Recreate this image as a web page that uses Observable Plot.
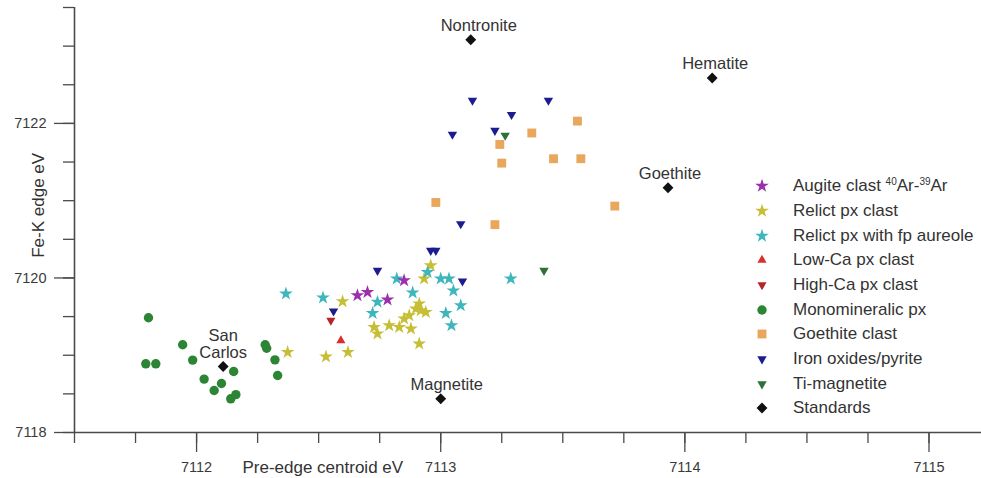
<!DOCTYPE html>
<html>
<head>
<meta charset="utf-8">
<script src="https://cdn.jsdelivr.net/npm/d3@7"></script>
<script src="https://cdn.jsdelivr.net/npm/@observablehq/plot@0.6"></script>
<style>
  body { margin: 0; background: #fff; font-family: "Liberation Sans", Arial, sans-serif; }
  #wrap { position: relative; width: 981px; height: 478px; }
  #legend { position: absolute; left: 750px; top: 174px; color: #333; font-size: 17px; }
  .row { height: 24.67px; display: flex; align-items: center; white-space: nowrap; }
  .row svg { width: 24px; height: 24px; margin-right: 19px; flex: none; }
  sup { font-size: 10px; vertical-align: 6px; line-height: 0; }
</style>
</head>
<body>
<div id="wrap"></div>
<script>
// ---------------- data (pre-edge centroid eV, Fe-K edge eV) ----------------
const augite = [[7112.659,7119.773],[7112.700,7119.816],[7112.782,7119.718],[7112.850,7119.968]];
const relictPx = [[7112.373,7119.040],[7112.530,7118.980],[7112.620,7119.040],[7112.598,7119.696],
  [7112.727,7119.363],[7112.741,7119.278],[7112.789,7119.385],[7112.830,7119.363],[7112.850,7119.472],
  [7112.871,7119.515],[7112.878,7119.342],[7112.898,7119.601],[7112.918,7119.579],[7112.939,7119.557],
  [7112.912,7119.666],[7112.932,7119.990],[7112.912,7119.148],[7112.959,7120.160]];
const relictFp = [[7112.366,7119.795],[7112.518,7119.744],[7112.820,7119.990],[7112.885,7119.810],
  [7112.741,7119.690],[7112.721,7119.544],[7112.946,7120.075],[7113.000,7119.990],[7113.034,7119.990],
  [7113.052,7119.835],[7113.082,7119.644],[7113.021,7119.544],[7113.044,7119.385],[7113.287,7119.990]];
const lowCa = [[7112.591,7119.190]];
const highCa = [[7112.550,7119.450]];
const monomineralic = [[7111.803,7119.485],[7111.792,7118.889],[7111.833,7118.889],[7111.943,7119.135],
  [7111.984,7118.937],[7112.031,7118.691],[7112.102,7118.634],[7112.072,7118.544],[7112.152,7118.790],
  [7112.140,7118.436],[7112.161,7118.490],[7112.281,7119.135],[7112.287,7119.090],[7112.321,7118.940],
  [7112.332,7118.738]];
const goethiteClast = [[7113.560,7122.030],[7113.373,7121.876],[7113.242,7121.728],[7113.250,7121.486],
  [7113.462,7121.543],[7113.574,7121.543],[7112.980,7120.977],[7113.713,7120.930],[7113.222,7120.690]];
const ironOxides = [[7112.561,7119.570],[7112.741,7120.097],[7112.959,7120.356],[7112.980,7120.356],
  [7113.089,7119.959],[7113.130,7122.298],[7113.441,7122.298],[7113.290,7122.113],[7113.048,7121.858],
  [7113.222,7121.909],[7113.082,7120.700]];
const tiMagnetite = [[7113.264,7121.845],[7113.423,7120.097]];
const standardNames = ["Nontronite", "Hematite", "Goethite", "Magnetite", "San\nCarlos"];
const standardX = [7113.123, 7114.112, 7113.931, 7113.000, 7112.109];
const standardY = [7123.083, 7122.587, 7121.168, 7118.436, 7118.854];

const xMajorTicks = [7112, 7113, 7114, 7115];
const yMajorTicks = [7118, 7120, 7122];
const xLabel = "Pre-edge centroid eV";
const yLabel = "Fe-K edge eV";

// ---------------- symbols ----------------
const triangleDown = {
  draw(ctx, size) {
    const y = Math.sqrt(size / (Math.sqrt(3) * 3));
    ctx.moveTo(0, 2 * y);
    ctx.lineTo(Math.sqrt(3) * y, -y);
    ctx.lineTo(-Math.sqrt(3) * y, -y);
    ctx.closePath();
  }
};

const standards = standardNames.map((name, i) => ({name, x: standardX[i], y: standardY[i]}));

const series = [
  {label: 'Augite clast <sup>40</sup>Ar-<sup>39</sup>Ar', data: augite, symbol: "star", d3s: d3.symbolStar, fill: "#9c2fae", r: 4.3},
  {label: "Relict px clast", data: relictPx, symbol: "star", d3s: d3.symbolStar, fill: "#c6bf36", r: 4.3},
  {label: "Relict px with fp aureole", data: relictFp, symbol: "star", d3s: d3.symbolStar, fill: "#3db6bc", r: 4.3},
  {label: "Low-Ca px clast", data: lowCa, symbol: "triangle", d3s: d3.symbolTriangle, fill: "#d8302c", r: 3.4},
  {label: "High-Ca px clast", data: highCa, symbol: triangleDown, d3s: triangleDown, fill: "#b3262a", r: 3.4},
  {label: "Monomineralic px", data: monomineralic, symbol: "circle", d3s: d3.symbolCircle, fill: "#2b8535", r: 4.7},
  {label: "Goethite clast", data: goethiteClast, symbol: "square", d3s: d3.symbolSquare, fill: "#e8a75c", r: 5.0},
  {label: "Iron oxides/pyrite", data: ironOxides, symbol: triangleDown, d3s: triangleDown, fill: "#1c1c8e", r: 3.5},
  {label: "Ti-magnetite", data: tiMagnetite, symbol: triangleDown, d3s: triangleDown, fill: "#2e7036", r: 3.5},
  {label: "Standards", data: standards.map(d => [d.x, d.y]), symbol: "diamond2", d3s: d3.symbolDiamond2, fill: "#111", r: 4.9}
];

const drawOrder = [1, 2, 0, 3, 4, 5, 6, 7, 8, 9];
const axisColor = "#4a4a4a";
const noLabel = () => "";

const marks = [
  // minor ticks
  Plot.axisX({ticks: d3.range(7111.5, 7115.2, 0.25), tickSize: 11, tickFormat: noLabel, label: null, color: axisColor, strokeWidth: 1.3}),
  Plot.axisY({ticks: d3.range(7118, 7123.51, 0.5), tickSize: 11, tickFormat: noLabel, label: null, color: axisColor, strokeWidth: 1.3}),
  // major ticks
  Plot.axisX({ticks: xMajorTicks, tickSize: 20, tickFormat: noLabel, label: null, color: axisColor, strokeWidth: 1.3}),
  Plot.axisY({ticks: yMajorTicks, tickSize: 20, tickFormat: noLabel, label: null, color: axisColor, strokeWidth: 1.3}),
  // tick labels
  Plot.text(xMajorTicks, {x: d => d, text: d => String(d), frameAnchor: "bottom", lineAnchor: "middle", dy: 35, fontSize: 14.5, fill: "#3a3a3a"}),
  Plot.text(yMajorTicks, {y: d => d, text: d => String(d), frameAnchor: "left", textAnchor: "end", lineAnchor: "middle", dx: -28, fontSize: 14.5, fill: "#3a3a3a"}),
  // axis lines
  Plot.ruleX([7111.5], {stroke: axisColor, strokeWidth: 1.6}),
  Plot.ruleY([7118], {stroke: axisColor, strokeWidth: 1.6}),
  // axis titles
  Plot.text([xLabel], {x: 7112.517, frameAnchor: "bottom", lineAnchor: "middle", dy: 35, fontSize: 17, fill: "#333"}),
  Plot.text([yLabel], {x: [7111.3525], y: [7120.94], lineAnchor: "middle", textAnchor: "middle", rotate: -90, fontSize: 17, fill: "#333"})
];

for (const i of drawOrder) {
  const s = series[i];
  marks.push(Plot.dot(s.data, {x: d => d[0], y: d => d[1], symbol: s.symbol, r: s.r, fill: s.fill, stroke: "none"}));
}

// standard labels
const labelOffsets = {"Nontronite": [8, -14.5], "Hematite": [3, -14.4], "Goethite": [2, -13.5], "Magnetite": [6, -14.3], "San\nCarlos": [0, -22.5]};
for (const s of standards) {
  const [dx, dy] = labelOffsets[s.name];
  marks.push(Plot.text([s], {x: "x", y: "y", text: "name", dx, dy, lineAnchor: "middle", lineHeight: 1.0, fontSize: 16.5, fill: "#333"}));
}

const chart = Plot.plot({
  width: 981,
  height: 478,
  marginLeft: 74,
  marginRight: 0,
  marginTop: 7,
  marginBottom: 46,
  style: {fontFamily: '"Liberation Sans", Arial, sans-serif', background: "#fff", overflow: "visible"},
  x: {domain: [7111.5, 7115.215]},
  y: {domain: [7118, 7123.5]},
  marks
});

const wrap = document.getElementById("wrap");
wrap.appendChild(chart);

// legend (HTML overlay)
const legend = document.createElement("div");
legend.id = "legend";
for (const s of series) {
  const row = document.createElement("div");
  row.className = "row";
  const size = s.r * s.r * Math.PI;
  const path = d3.symbol(s.d3s, size)();
  row.innerHTML = `<svg viewBox="-12 -12 24 24"><path d="${path}" fill="${s.fill}"/></svg><span>${s.label}</span>`;
  legend.appendChild(row);
}
wrap.appendChild(legend);
</script>
</body>
</html>
